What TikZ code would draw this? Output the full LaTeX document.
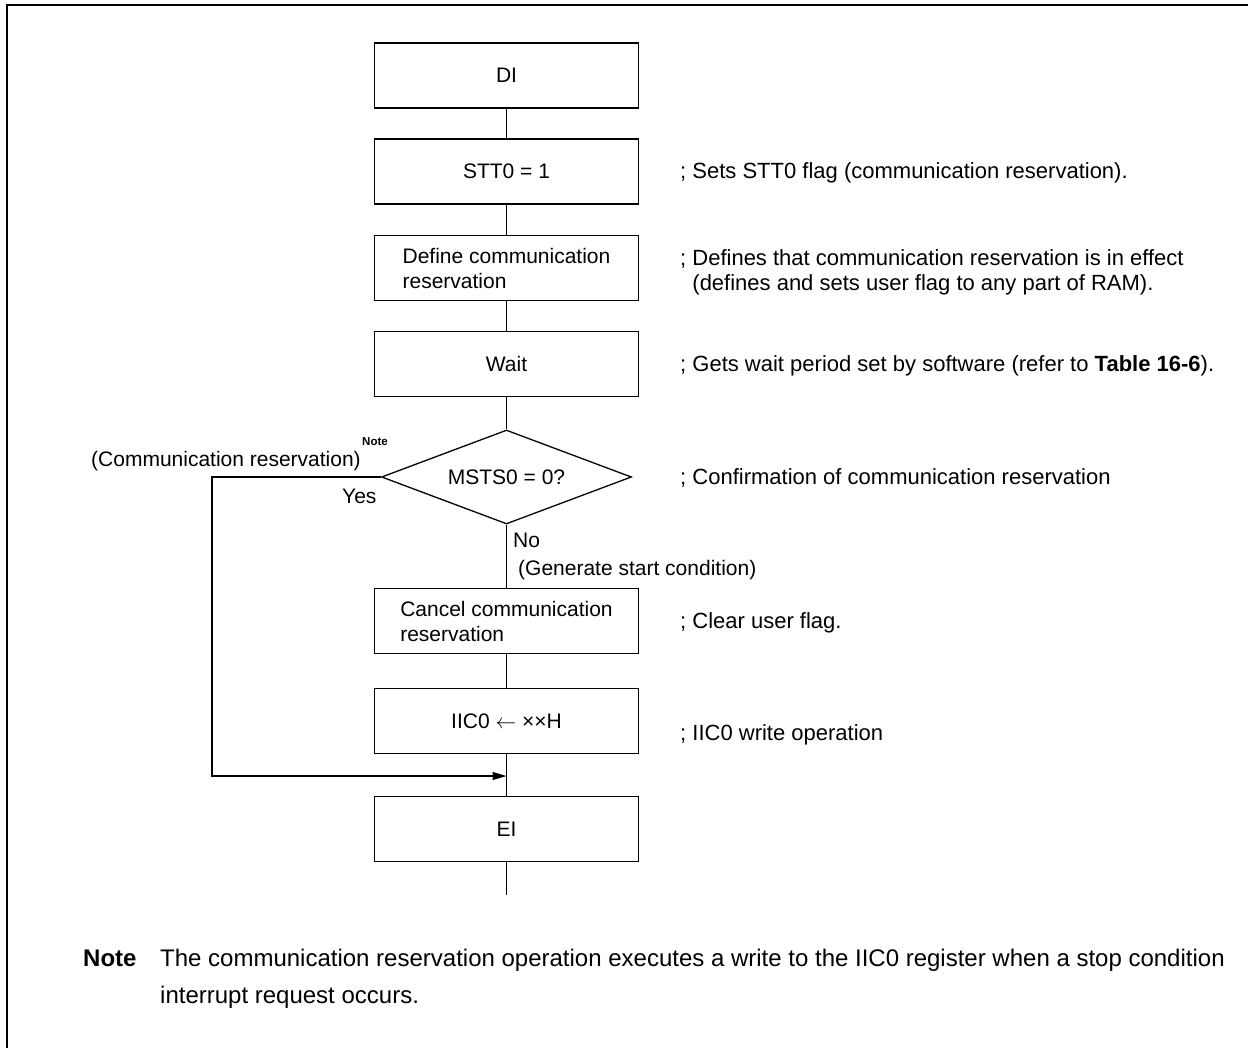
\documentclass[tikz,border=0pt]{standalone}
\usepackage{fontspec}
\setmainfont{Liberation Sans}
\usetikzlibrary{shapes.geometric,arrows.meta}
\begin{document}
\begin{tikzpicture}[x=1pt,y=-1pt,
  every node/.style={font=\fontsize{21}{25}\selectfont, inner sep=0pt},
  fbox/.style={draw, line width=1.6pt, minimum width=264pt, minimum height=65pt, align=left},
  conn/.style={line width=1.1pt},
  decis/.style={draw, shape=diamond, line width=1.3pt, minimum width=250pt, minimum height=94pt, aspect=2.66},
  comment/.style={anchor=base west, align=left, font=\fontsize{22}{25}\selectfont},
  lbl/.style={anchor=base west},
  notefont/.style={font=\fontsize{24}{37}\selectfont},
  notebold/.style={font=\fontsize{24}{37}\selectfont\bfseries}]
\useasboundingbox (0,0) rectangle (1248,1048);
\fill[white] (0,0) rectangle (1248,1048);
% frame
\draw[line width=2.6pt] (7,1048) -- (7,5) -- (1248,5);

% boxes
\node[fbox] (di) at (506.5,75.5) {DI};
\node[fbox] (stt) at (506.5,171.5) {STT0 = 1};
\node[fbox] (def) at (506.5,268) {Define communication\\reservation};
\node[fbox] (wait) at (506.5,364) {Wait};
\node[decis] (dec) at (506.5,477) {MSTS0 = 0?};
\node[fbox] (can) at (506.5,621) {Cancel communication\\reservation};
\node[fbox] (iic) at (506.5,721) {IIC0 $\leftarrow$ ××H};
\node[fbox] (ei) at (506.5,829) {EI};
\coordinate (endp) at (506.5,895);
\coordinate (corner) at (212,776);
\coordinate (join) at (506.5,776);

% connectors
\draw[conn] (di) -- (stt);
\draw[conn] (stt) -- (def);
\draw[conn] (def) -- (wait);
\draw[conn] (wait) -- (dec);
\draw[conn] (dec.south) -- (can.north);
\draw[conn] (can) -- (iic);
\draw[conn] (iic) -- (ei);
\draw[conn] (ei) -- (endp);
\draw[conn, -{Triangle[length=14pt,width=8pt]}] (dec.west) -| (corner) -- (join);

% labels
\node[anchor=base east] (cr) at (361,466.5) {(Communication reservation)};
\node[lbl, font=\fontsize{11.5}{13}\selectfont\bfseries] (crnote) at (362,446) {Note};
\node[lbl] (yes) at (342,503.5) {Yes};
\node[lbl] (no) at (513,547.5) {No};
\node[lbl] (gen) at (518,575.5) {(Generate start condition)};

% comments
\node[comment] (c1) at (680,179) {; Sets STT0 flag (communication reservation).};
\node[comment] (c2a) at (680,265.5) {; Defines that communication reservation is in effect};
\node[comment] (c2b) at (680,290.5) {\phantom{;} (defines and sets user flag to any part of RAM).};
\node[comment] (c3) at (680,371.5) {; Gets wait period set by software (refer to \textbf{Table 16-6}).};
\node[comment] (c4) at (680,484.5) {; Confirmation of communication reservation};
\node[comment] (c5) at (680,628.5) {; Clear user flag.};
\node[comment] (c6) at (680,740.5) {; IIC0 write operation};

% note
\node[lbl, notebold] (nt) at (83,966) {Note};
\node[lbl, notefont] (nt1) at (160,966) {The communication reservation operation executes a write to the IIC0 register when a stop condition};
\node[lbl, notefont] (nt2) at (160,1003) {interrupt request occurs.};
\end{tikzpicture}
\end{document}
